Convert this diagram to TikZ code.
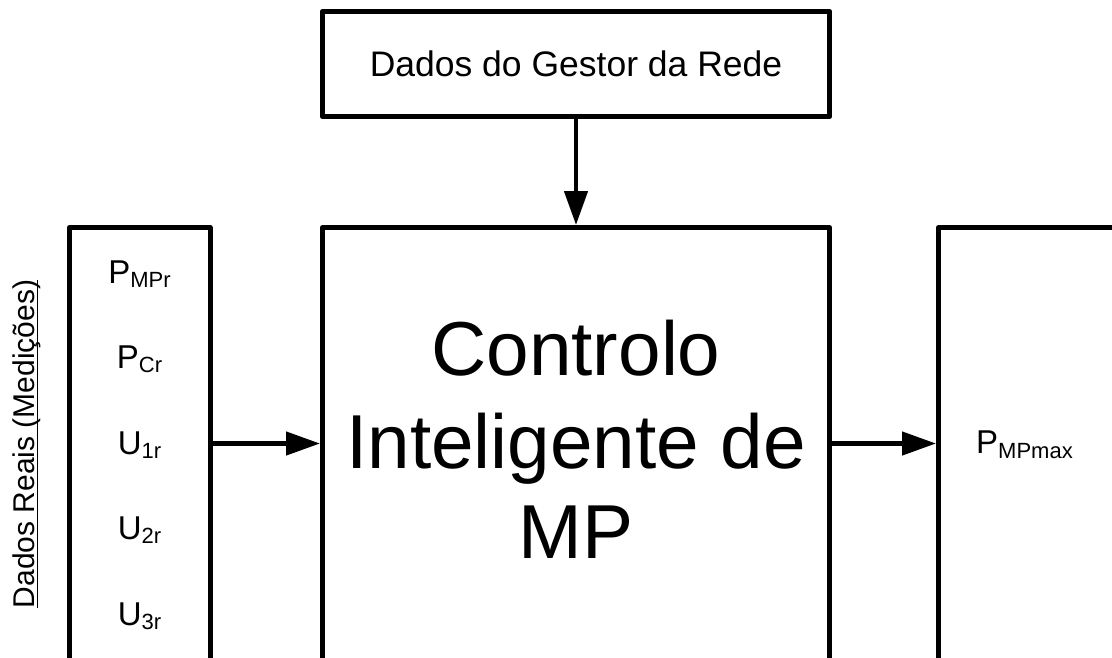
\documentclass[tikz,border=0pt]{standalone}
\usepackage{fontspec}
\setmainfont{Liberation Sans}
\usetikzlibrary{arrows.meta}
\newcommand\myul[1]{\setbox0=\hbox{#1}\rlap{\rule[-3.6pt]{\wd0}{1.4pt}}\box0}
\newcommand\lbl[2]{#1\raisebox{-4pt}{\fontsize{22}{22}\selectfont #2}}
\begin{document}
\begin{tikzpicture}[x=1pt,y=-1pt,
  boxst/.style={draw=black,line width=5pt,line join=round,inner sep=0pt,rectangle},
  arr/.style={line width=4.5pt,-{Triangle[length=34pt,width=23pt]}},
  lab/.style={font=\fontsize{33}{33}\selectfont,anchor=base,inner sep=0pt},
  big/.style={font=\fontsize{76.5}{76.5}\selectfont,anchor=base,inner sep=0pt}]
\useasboundingbox (0,0) rectangle (1112,657);
\clip (0,0) rectangle (1112,657);
\fill[white] (0,0) rectangle (1112,657);
% top box
\node[boxst,minimum width=507pt,minimum height=105.5pt,text height=25.5pt,text depth=0pt,
  font=\fontsize{35.5}{35.5}\selectfont] (gestor) at (576,64) {Dados do Gestor da Rede};
% open boxes (extend beyond the bottom edge)
\node[boxst,minimum width=140.5pt,minimum height=492.5pt] (left) at (139.75,473.75) {};
\node[boxst,minimum width=507pt,minimum height=492.5pt] (ctrl) at (576,473.75) {};
\node[boxst,minimum width=311.5pt,minimum height=492.5pt] (right) at (1094.25,473.75) {};
% centre text
\node[big] (c1) at (576,375) {Controlo};
\node[big] (c2) at (576,468) {Inteligente de};
\node[big] (c3) at (576,558) {MP};
% left labels
\node[lab] (l1) at (139.5,283) {\lbl{P}{MPr}};
\node[lab] (l2) at (139.5,368.5) {\lbl{P}{Cr}};
\node[lab] (l3) at (139.5,454) {\lbl{U}{1r}};
\node[lab] (l4) at (139.5,539.5) {\lbl{U}{2r}};
\node[lab] (l5) at (139.5,625) {\lbl{U}{3r}};
% right label
\node[lab,anchor=base west] (r1) at (976,453) {P\raisebox{-5pt}{\fontsize{22}{22}\selectfont MPmax}};
% vertical label
\node[anchor=base,inner sep=0pt,rotate=90,font=\fontsize{30}{30}\selectfont] (dr) at (34.5,444) {\myul{Dados Reais (Medições)}};
% connectors
\coordinate (ay) at (0,443.5);
\draw[arr] (gestor.south) -- (ctrl.north);
\draw[arr] (left.east |- ay) -- (ctrl.west |- ay);
\draw[arr] (ctrl.east |- ay) -- (right.west |- ay);
\end{tikzpicture}
\end{document}
